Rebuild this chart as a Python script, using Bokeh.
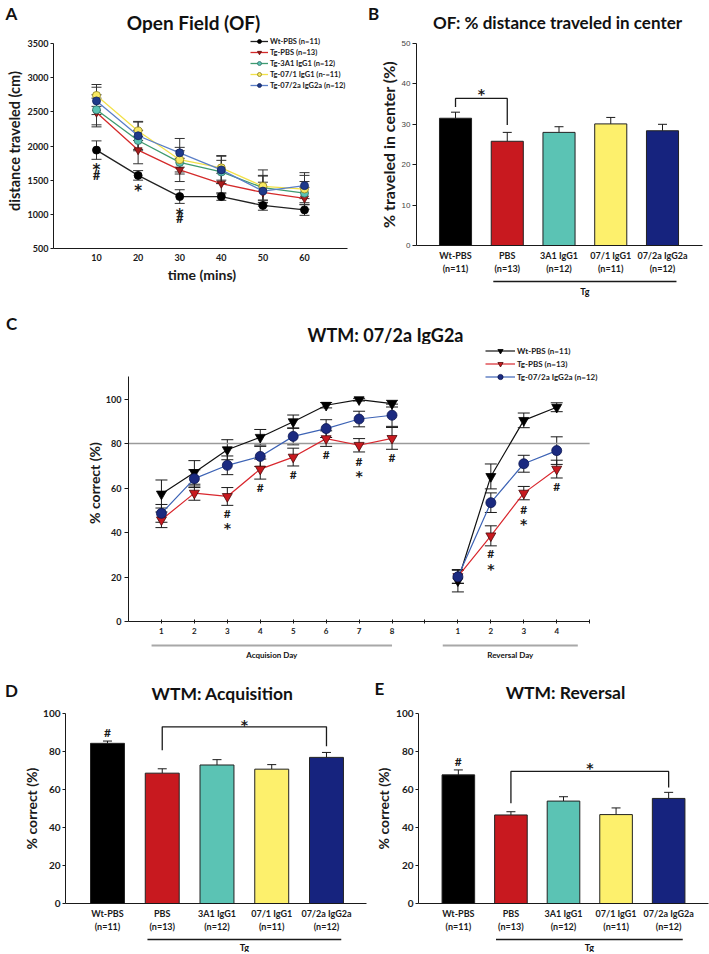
from bokeh.plotting import figure
from bokeh.models import (ColumnDataSource, Whisker, TeeHead, Legend, LegendItem,
                          FixedTicker, Range1d)
from bokeh.layouts import column, row
from bokeh.embed import file_html
from bokeh.resources import INLINE
from bokeh.core.properties import value

FONT = "Lato"
STAR_FONT = "DejaVu Sans"
INK = "#1a1a1a"

# ---------------- Panel A: Open Field ----------------
a_time = [10, 20, 30, 40, 50, 60]
a_wt_pbs = [1940, 1570, 1260, 1260, 1130, 1065]
a_wt_pbs_err = [135, 70, 100, 55, 70, 80]
a_tg_pbs = [2490, 1940, 1650, 1450, 1320, 1235]
a_tg_pbs_err = [210, 200, 170, 150, 150, 160]
a_tg_3a1 = [2530, 2080, 1760, 1620, 1390, 1310]
a_tg_3a1_err = [220, 150, 170, 170, 180, 170]
a_tg_071 = [2740, 2220, 1800, 1680, 1410, 1370]
a_tg_071_err = [160, 140, 180, 180, 240, 200]
a_tg_072a = [2660, 2150, 1900, 1650, 1340, 1420]
a_tg_072a_err = [200, 200, 210, 200, 220, 190]
a_labels = ["Wt-PBS (n=11)", "Tg-PBS (n=13)", "Tg-3A1 IgG1 (n=12)",
            "Tg-07/1 IgG1 (n-=11)", "Tg-07/2a IgG2a (n=12)"]
a_sig_x = [10, 10, 20, 30, 30]
a_sig_y = [1705, 1570, 1400, 1050, 940]
a_sig_t = ["*", "#", "*", "*", "#"]
a_yticks = [500, 1000, 1500, 2000, 2500, 3000, 3500]

# ---------------- Bar panels (B, D, E) ----------------
grp_names = ["Wt-PBS", "PBS", "3A1 IgG1", "07/1 IgG1", "07/2a IgG2a"]
grp_n = ["(n=11)", "(n=13)", "(n=12)", "(n=11)", "(n=12)"]
grp_colors = ["#000000", "#c8191f", "#5bc3b4", "#fdf06c", "#16237e"]
grp_tg_first, grp_tg_last = 1, 4

b_center = [31.5, 25.8, 28.0, 30.1, 28.4]
b_center_err = [1.5, 2.2, 1.4, 1.6, 1.6]
b_bracket_groups = [0, 1]
b_bracket_top = 36.4
b_bracket_ends = [34.3, 29.8]
b_sig_x = [0.5]
b_sig_y = [38.6]
b_sig_t = ["*"]
b_yticks = [0, 10, 20, 30, 40, 50]

d_acq = [84.3, 68.6, 72.9, 70.7, 76.9]
d_acq_err = [1.2, 2.3, 2.8, 2.4, 2.6]
d_bracket_groups = [1, 4]
d_bracket_top = 93.0
d_bracket_ends = [80.7, 82.8]
d_sig_x = [2.5, 0]
d_sig_y = [96.3, 90.2]
d_sig_t = ["*", "#"]

e_rev = [67.7, 46.6, 53.9, 46.8, 55.3]
e_rev_err = [2.6, 1.7, 2.3, 3.5, 3.2]
e_bracket_groups = [1, 4]
e_bracket_top = 69.5
e_bracket_ends = [52.7, 61.0]
e_sig_x = [2.5, 0]
e_sig_y = [73.3, 74.8]
e_sig_t = ["*", "#"]
pct_yticks = [0, 20, 40, 60, 80, 100]

# ---------------- Panel C: WTM ----------------
c_acq_days = [1, 2, 3, 4, 5, 6, 7, 8]
c_rev_days = [1, 2, 3, 4]
c_rev_shift = 9
c_wt_acq = [57.3, 67.0, 77.2, 82.8, 89.8, 97.2, 99.7, 97.9]
c_wt_acq_err = [6.3, 5.3, 4.5, 3.5, 3.0, 1.2, 0.6, 1.5]
c_wt_rev = [18.3, 65.2, 90.4, 96.3]
c_wt_rev_err = [5.0, 5.6, 3.3, 2.0]
c_pbs_acq = [45.7, 57.7, 56.2, 68.5, 73.9, 82.2, 79.2, 82.3]
c_pbs_acq_err = [3.5, 3.2, 4.0, 4.5, 4.0, 3.5, 3.0, 4.9]
c_pbs_rev = [20.2, 38.5, 57.7, 68.5]
c_pbs_rev_err = [3.0, 4.5, 3.0, 4.0]
c_072a_acq = [48.6, 64.2, 70.2, 74.2, 83.2, 86.7, 91.0, 92.7]
c_072a_acq_err = [4.0, 4.0, 4.2, 4.5, 3.8, 4.0, 3.5, 5.0]
c_072a_rev = [20.1, 53.4, 70.9, 76.8]
c_072a_rev_err = [3.0, 4.4, 3.8, 6.2]
c_labels = ["Wt-PBS (n=11)", "Tg-PBS (n=13)", "Tg-07/2a IgG2a (n=12)"]
c_sig_x = [3, 3, 4, 5, 6, 7, 7, 8, 11, 11, 12, 12, 13]
c_sig_y = [48.7, 43.8, 60.3, 66.0, 75.0, 72.0, 67.0, 73.5, 30.7, 25.5, 50.5, 45.4, 60.7]
c_sig_t = ["#", "*", "#", "#", "#", "#", "*", "#", "#", "*", "#", "*", "#"]
c_criterion = 80

# panel letters and titles
letters = ["A", "B", "C", "D", "E"]
titles = ["Open Field (OF)", "OF: % distance traveled in center", "WTM: 07/2a IgG2a",
          "WTM: Acquisition", "WTM: Reversal"]


def blank_fig(width, height, xr=None, yr=None, bl=0, br=0):
    p = figure(width=width, height=height,
               x_range=xr if xr is not None else Range1d(0, width),
               y_range=yr if yr is not None else Range1d(0, height),
               output_backend="svg", toolbar_location=None, title=None,
               x_axis_location=None, y_axis_location=None, frame_align=False,
               min_border_left=bl, min_border_right=br, min_border_top=0, min_border_bottom=0)
    p.xgrid.visible = False
    p.ygrid.visible = False
    p.outline_line_color = None
    return p


def put_text(p, x, y, text, size, align="center"):
    p.text(x=[x], y=[y], text=[text], text_font=value(FONT), text_font_style="bold",
           text_font_size=size, text_color="#111111", text_align=align,
           text_baseline="middle")


def make_fig(width, height, xr, yr, bl, br, bt, bb):
    p = figure(width=width, height=height, x_range=Range1d(*xr), y_range=Range1d(*yr),
               output_backend="svg", toolbar_location=None, title=None, frame_align=False,
               min_border_left=bl, min_border_right=br,
               min_border_top=bt, min_border_bottom=bb)
    p.xgrid.visible = False
    p.ygrid.visible = False
    p.outline_line_color = None
    return p


def style_axis(ax, size, bold=True, font=FONT, color=INK, tick_out=4, tick_in=0,
               standoff=3, label_size="14px", label_standoff=3):
    ax.axis_line_color = INK
    ax.axis_line_width = 1
    ax.major_tick_line_color = INK
    ax.major_tick_out = tick_out
    ax.major_tick_in = tick_in
    ax.minor_tick_line_color = None
    ax.major_label_text_font = font
    ax.major_label_text_font_size = size
    ax.major_label_text_font_style = "bold" if bold else "normal"
    ax.major_label_text_color = color
    ax.major_label_standoff = standoff
    ax.axis_label_text_font = FONT
    ax.axis_label_text_font_style = "bold"
    ax.axis_label_text_font_size = label_size
    ax.axis_label_text_color = INK
    ax.axis_label_standoff = label_standoff


def sig_text(p, xs, ys, ts, hash_size=12, star_size=14):
    for mark, font, size, off in (("#", FONT, hash_size, 0),
                                  ("*", STAR_FONT, star_size, round(star_size * 0.27))):
        sel = [i for i, t in enumerate(ts) if t == mark]
        if not sel:
            continue
        src = ColumnDataSource(dict(x=[xs[i] for i in sel], y=[ys[i] for i in sel],
                                    t=[ts[i] for i in sel]))
        p.text(x="x", y="y", text="t", y_offset=off, source=src,
               text_font=value(font), text_font_size=f"{size}px",
               text_font_style="bold", text_color=INK,
               text_align="center", text_baseline="middle")


def bar_panel(width, height, xr, yr, borders, vals, errs, ylabel, ylabel_size, yticks,
              ytick_font, ytick_bold, ytick_size, ytick_color, tick_out, tick_stand,
              brk_groups, brk_top, brk_ends, sx, sy, st, cat_size, lab_standoff):
    bl, br, bt, bb = borders
    p = make_fig(width, height, xr, yr, bl, br, bt, bb)
    idx = list(range(len(grp_names)))
    src = ColumnDataSource(dict(x=idx, top=vals, upper=[v + e for v, e in zip(vals, errs)],
                                color=grp_colors))
    p.add_layout(Whisker(source=src, base="x", upper="upper", lower="top",
                         line_color=INK, line_width=1,
                         upper_head=TeeHead(size=9, line_color=INK, line_width=1),
                         lower_head=None))
    p.vbar(x="x", top="top", width=0.62, fill_color="color", line_color="#222222",
           line_width=1, source=src)
    g0, g1 = brk_groups
    p.line(x=[g0, g0, g1, g1], y=[brk_ends[0], brk_top, brk_top, brk_ends[1]],
           line_color=INK, line_width=1.3)
    sig_text(p, sx, sy, st)
    xa = p.xaxis[0]
    style_axis(xa, cat_size, tick_out=0, standoff=4)
    xa.ticker = FixedTicker(ticks=idx)
    xa.major_label_overrides = {i: f"{grp_names[i]}\n{grp_n[i]}" for i in idx}
    ya = p.yaxis[0]
    style_axis(ya, ytick_size, bold=ytick_bold, font=ytick_font, color=ytick_color,
               tick_out=tick_out, standoff=tick_stand, label_size=ylabel_size,
               label_standoff=lab_standoff)
    ya.ticker = FixedTicker(ticks=yticks)
    ya.axis_label = ylabel
    return p


def tg_strip(p_main, width, height, bl, br, line_from_top, label_from_top, size):
    s = blank_fig(width, height, xr=p_main.x_range, yr=Range1d(0, height), bl=bl, br=br)
    yl = height - line_from_top
    s.line(x=[grp_tg_first - 0.27, grp_tg_last + 0.27], y=[yl, yl], line_color=INK,
           line_width=1.3)
    put_text(s, (grp_tg_first + grp_tg_last) / 2, height - label_from_top, "Tg", size)
    return s


W = 709

# ================= Row 1: letters + titles =================
s1 = blank_fig(W, 33)
put_text(s1, 11, 33 - 13, letters[0], "17px")
put_text(s1, 193, 33 - 22, titles[0], "19px")
put_text(s1, 373, 33 - 13, letters[1], "17px")
put_text(s1, 557, 33 - 22, titles[1], "17px")

# ================= Panel A =================
A_px = 205 / 3000.0
pA = make_fig(350, 267, (-0.34, -0.34 + 297 / 4.16), (500, 3500 + 10 / A_px), 53, 0, 0, 52)
a_data = [a_wt_pbs, a_tg_pbs, a_tg_3a1, a_tg_071, a_tg_072a]
a_errs = [a_wt_pbs_err, a_tg_pbs_err, a_tg_3a1_err, a_tg_071_err, a_tg_072a_err]
a_line_col = ["#222222", "#d42a2a", "#3f9b70", "#f2e14a", "#5b7fc7"]
a_fill = ["#000000", "#a81c1c", "#5bc3b4", "#f7e862", "#1f3a8a"]
a_edge = ["#000000", "#5a0a0a", "#2f6e66", "#8a7d1a", "#13245e"]
a_mark = ["circle", "inverted_triangle", "circle", "circle", "circle"]
items = []
for ys, es, lc, fc, ec, mk, lab in zip(a_data, a_errs, a_line_col, a_fill, a_edge, a_mark, a_labels):
    src = ColumnDataSource(dict(x=a_time, y=ys, lo=[y - e for y, e in zip(ys, es)],
                                hi=[y + e for y, e in zip(ys, es)]))
    pA.add_layout(Whisker(source=src, base="x", upper="hi", lower="lo", line_color="#333333",
                          line_width=1, upper_head=TeeHead(size=10, line_color="#333333", line_width=1),
                          lower_head=TeeHead(size=10, line_color="#333333", line_width=1)))
    ln = pA.line("x", "y", source=src, line_color=lc, line_width=1.3)
    sc = pA.scatter("x", "y", source=src, marker=mk, size=8, fill_color=fc, line_color=ec,
                    line_width=0.8)
    items.append(LegendItem(label=lab, renderers=[ln, sc]))
sig_text(pA, a_sig_x, a_sig_y, a_sig_t, hash_size=13, star_size=15)
legA = Legend(items=items, location=(197, 158), padding=0, margin=0, spacing=1,
              glyph_width=18, glyph_height=10, label_height=10, label_standoff=2,
              label_text_font=FONT, label_text_font_style="bold", label_text_font_size="7.5px",
              label_text_color=INK, background_fill_alpha=0, border_line_color=None)
pA.add_layout(legA)
style_axis(pA.xaxis[0], "9px", tick_out=0, standoff=5, label_size="14px", label_standoff=2)
pA.xaxis[0].ticker = FixedTicker(ticks=a_time)
pA.xaxis[0].axis_label = "time (mins)"
pA.xaxis[0].bounds = (-0.34, 70.3)
style_axis(pA.yaxis[0], "9px", tick_out=3, standoff=2, label_size="14.5px", label_standoff=2)
pA.yaxis[0].ticker = FixedTicker(ticks=a_yticks)
pA.yaxis[0].axis_label = "distance traveled (cm)"
pA.yaxis[0].bounds = (500, 3500)

# ================= Panel B =================
pB = bar_panel(359, 243, (-0.754, 4.773), (0, 50), (66, 7, 10, 28),
               b_center, b_center_err, "% traveled in center (%)", "16px", b_yticks,
               "Liberation Sans", False, "8px", "#444444", 4, 2,
               b_bracket_groups, b_bracket_top, b_bracket_ends,
               b_sig_x, b_sig_y, b_sig_t, "9px", 1)
sB = tg_strip(pB, 359, 24, 66, 7, 5, 15, "9px")

# ================= Row 2: C =================
s2 = blank_fig(W, 44)
put_text(s2, 11, 44 - 23, letters[2], "17px")
put_text(s2, 385, 44 - 34, titles[2], "18px")

C_px = 2.225
C_xpx = 32.94
pC = make_fig(W, 295, (0, (612 - 128) / C_xpx), (0, 277 / C_px), 128, W - 612, 0, 18)
rev_pos = [d + c_rev_shift for d in c_rev_days]
c_end = rev_pos[-1] + 1
pC.line(x=[0, c_end], y=[c_criterion, c_criterion], line_color="#9a9a9a", line_width=1.3)
c_series = [
    (c_wt_acq, c_wt_acq_err, c_wt_rev, c_wt_rev_err, "#111111", "#000000", "#000000", "inverted_triangle"),
    (c_pbs_acq, c_pbs_acq_err, c_pbs_rev, c_pbs_rev_err, "#d9272e", "#c8191f", "#4a0a0a", "inverted_triangle"),
    (c_072a_acq, c_072a_acq_err, c_072a_rev, c_072a_rev_err, "#3d63b5", "#1b2a80", "#0d1650", "circle"),
]
itemsC = []
for (ya_, ea_, yr_, er_, lc, fc, ec, mk), lab in zip(c_series, c_labels):
    rends = []
    for xs, ys, es in ((c_acq_days, ya_, ea_), (rev_pos, yr_, er_)):
        src = ColumnDataSource(dict(x=xs, y=ys, lo=[y - e for y, e in zip(ys, es)],
                                    hi=[y + e for y, e in zip(ys, es)]))
        pC.add_layout(Whisker(source=src, base="x", upper="hi", lower="lo", line_color=INK,
                              line_width=1, upper_head=TeeHead(size=12, line_color=INK, line_width=1),
                              lower_head=TeeHead(size=12, line_color=INK, line_width=1)))
        ln = pC.line("x", "y", source=src, line_color=lc, line_width=1.2)
        sc = pC.scatter("x", "y", source=src, marker=mk, size=10, fill_color=fc,
                        line_color=ec, line_width=0.8)
        rends.append((ln, sc))
    itemsC.append(LegendItem(label=lab, renderers=[rends[0][0], rends[0][1]]))
sig_text(pC, c_sig_x, c_sig_y, c_sig_t)
legC = Legend(items=itemsC, location=(357, 238), padding=0, margin=0, spacing=0,
              glyph_width=30, glyph_height=13, label_height=13, label_standoff=2,
              label_text_font=FONT, label_text_font_style="bold", label_text_font_size="8px",
              label_text_color=INK, background_fill_alpha=0, border_line_color=None)
pC.add_layout(legC)
xaC = pC.xaxis[0]
style_axis(xaC, "8px", tick_out=2, tick_in=2, standoff=4)
c_ticks = list(range(1, c_end + 1))
xaC.ticker = FixedTicker(ticks=c_ticks)
overrides = {t: "" for t in c_ticks}
for d in c_acq_days:
    overrides[d] = str(d)
for d, pos in zip(c_rev_days, rev_pos):
    overrides[pos] = str(d)
xaC.major_label_overrides = overrides
xaC.bounds = (0, c_end)
yaC = pC.yaxis[0]
style_axis(yaC, "9px", tick_out=4, standoff=3, label_size="14px", label_standoff=0)
yaC.ticker = FixedTicker(ticks=pct_yticks)
yaC.axis_label = "% correct (%)"
yaC.bounds = (0, 110)

sC = blank_fig(W, 29, xr=pC.x_range, yr=Range1d(0, 29), bl=128, br=W - 612)
for x0, x1, txt in ((c_acq_days[0] - 0.3, c_acq_days[-1], "Acquision Day"),
                    (rev_pos[0] - 0.46, rev_pos[-1] + 0.64, "Reversal Day")):
    sC.line(x=[x0, x1], y=[29 - 6, 29 - 6], line_color="#a8a8a8", line_width=2)
    put_text(sC, (x0 + x1) / 2, 29 - 15, txt, "8px")

# ================= Row 3: D, E =================
s3 = blank_fig(W, 36)
put_text(s3, 11, 36 - 22, letters[3], "17px")
put_text(s3, 222, 36 - 25, titles[3], "17.5px")
put_text(s3, 379, 36 - 20, letters[4], "17px")
put_text(s3, 565, 36 - 24, titles[4], "17.5px")

pD = bar_panel(372, 230, (-0.767, 4.731), (0, 100), (65, 6, 9, 28),
               d_acq, d_acq_err, "% correct (%)", "14px", pct_yticks, FONT, True, "10px", INK,
               3, 2, d_bracket_groups, d_bracket_top, d_bracket_ends,
               d_sig_x, d_sig_y, d_sig_t, "9px", 0)
sD = tg_strip(pD, 372, 18, 65, 6, 5, 13, "9px")

pE = bar_panel(337, 230, (-0.758, 4.758), (0, 100), (45, 1, 9, 28),
               e_rev, e_rev_err, "% correct (%)", "14px", pct_yticks, FONT, True, "10px", INK,
               3, 2, e_bracket_groups, e_bracket_top, e_bracket_ends,
               e_sig_x, e_sig_y, e_sig_t, "9px", 1)
sE = tg_strip(pE, 337, 18, 45, 1, 5, 13, "9px")

layout = column(s1, row(pA, column(pB, sB)), s2, pC, sC, s3,
                row(column(pD, sD), column(pE, sE)))
open("out.html", "w").write(file_html(layout, INLINE))
